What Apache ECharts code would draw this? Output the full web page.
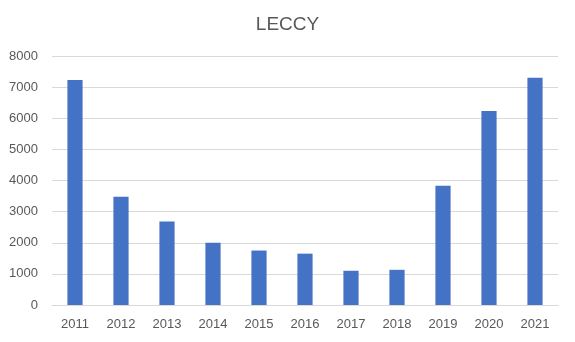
<!DOCTYPE html>
<html>
<head>
<meta charset="utf-8">
<script src="https://cdn.jsdelivr.net/npm/echarts@6/dist/echarts.min.js"></script>
<style>html,body{margin:0;padding:0;background:#fff}#c{width:575px;height:342px}</style>
</head>
<body>
<div id="c"></div>
<script>
const title = "LECCY";
const categories = ["2011","2012","2013","2014","2015","2016","2017","2018","2019","2020","2021"];
const values = [7230, 3480, 2680, 2000, 1750, 1650, 1100, 1130, 3830, 6230, 7300];
const yMin = 0, yMax = 8000, yStep = 1000;

const chart = echarts.init(document.getElementById('c'), null, {renderer: 'canvas'});
chart.setOption({
  animation: false,
  backgroundColor: '#ffffff',
  title: {
    text: title, left: 'center', top: 10,
    textStyle: {fontFamily: 'Liberation Sans', fontSize: 19, fontWeight: 'normal', color: '#595959'}
  },
  grid: {left: 52, right: 17, top: 56, bottom: 37, containLabel: false},
  xAxis: {
    type: 'category', data: categories,
    axisLine: {show: true, lineStyle: {color: '#d9d9d9', width: 1}},
    axisTick: {show: false},
    axisLabel: {color: '#595959', fontFamily: 'Liberation Sans', fontSize: 13, margin: 13}
  },
  yAxis: {
    type: 'value', min: yMin, max: yMax, interval: yStep,
    axisLine: {show: false}, axisTick: {show: false},
    splitLine: {lineStyle: {color: '#d9d9d9', width: 1}},
    axisLabel: {color: '#595959', fontFamily: 'Liberation Sans', fontSize: 13, margin: 14,
      formatter: function (v) { return String(v); }}
  },
  series: [{
    type: 'bar', data: values, barWidth: '33%',
    itemStyle: {color: '#4472C4'}
  }]
});
</script>
</body>
</html>
